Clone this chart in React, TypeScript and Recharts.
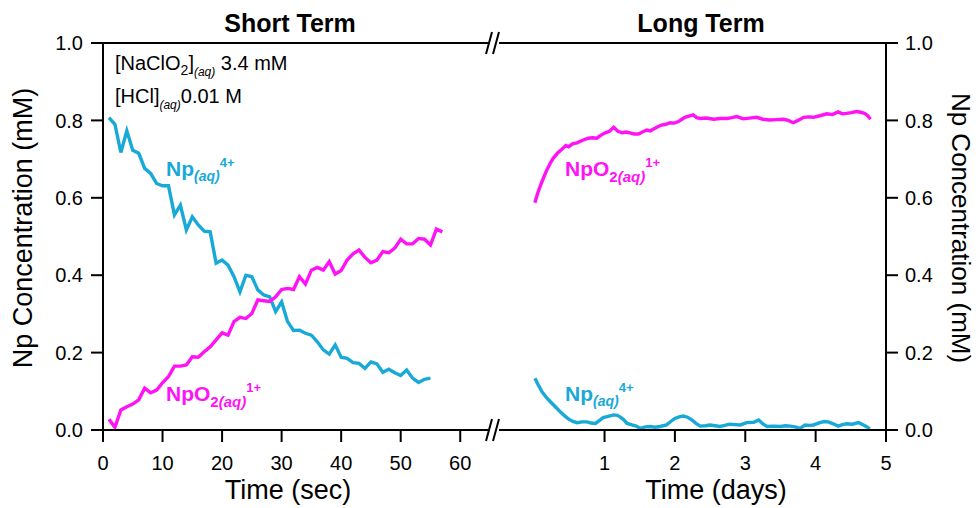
import React from "react";
import { LineChart, Line, XAxis, YAxis, ReferenceLine } from "recharts";

// short term run, one reading per second
const shortSeconds = [
  1, 2, 3, 4, 5, 6, 7, 8, 9, 10, 11, 12, 13, 14, 15, 16, 17, 18, 19, 20,
  21, 22, 23, 24, 25, 26, 27, 28, 29, 30, 31, 32, 33, 34, 35, 36, 37, 38, 39, 40,
  41, 42, 43, 44, 45, 46, 47, 48, 49, 50, 51, 52, 53, 54, 55, 56, 57,
];
const shortNp4 = [
  0.807, 0.79, 0.717, 0.773, 0.723, 0.715, 0.676, 0.663, 0.637, 0.631,
  0.631, 0.556, 0.581, 0.517, 0.551, 0.53, 0.514, 0.512, 0.431, 0.439,
  0.426, 0.396, 0.357, 0.4, 0.396, 0.362, 0.349, 0.344, 0.306, 0.331,
  0.28, 0.257, 0.258, 0.25, 0.245, 0.228, 0.207, 0.196, 0.22, 0.188,
  0.185, 0.174, 0.172, 0.159, 0.176, 0.171, 0.149, 0.157, 0.148, 0.141,
  0.155, 0.134, 0.123, 0.131, 0.134,
];
const shortNpO2 = [
  0.028, 0.007, 0.052, 0.06, 0.067, 0.078, 0.108, 0.096, 0.103, 0.122,
  0.138, 0.165, 0.165, 0.168, 0.189, 0.188, 0.202, 0.215, 0.233, 0.251,
  0.245, 0.28, 0.291, 0.288, 0.301, 0.336, 0.334, 0.332, 0.344, 0.363,
  0.366, 0.363, 0.396, 0.377, 0.413, 0.42, 0.413, 0.435, 0.403, 0.412,
  0.439, 0.455, 0.465, 0.446, 0.432, 0.439, 0.461, 0.458, 0.47, 0.493,
  0.481, 0.481, 0.495, 0.493, 0.478, 0.519, 0.512,
];

// long term run
const longNpO2Days = [
  0.01, 0.05, 0.09, 0.14, 0.18, 0.23, 0.27, 0.33, 0.39, 0.45,
  0.49, 0.55, 0.61, 0.68, 0.77, 0.83, 0.89, 0.95, 1.01, 1.07,
  1.13, 1.19, 1.25, 1.31, 1.36, 1.42, 1.48, 1.54, 1.6, 1.65,
  1.69, 1.75, 1.81, 1.87, 1.93, 1.99, 2.05, 2.1, 2.14, 2.2,
  2.26, 2.31, 2.36, 2.45, 2.55, 2.64, 2.74, 2.81, 2.88, 2.97,
  3.06, 3.16, 3.25, 3.35, 3.45, 3.54, 3.61, 3.68, 3.75, 3.83,
  3.9, 3.97, 4.06, 4.16, 4.24, 4.32, 4.38, 4.44, 4.51, 4.58,
  4.64, 4.7, 4.74, 4.78,
];
const longNpO2 = [
  0.587, 0.612, 0.632, 0.655, 0.672, 0.69, 0.702, 0.715, 0.725, 0.735,
  0.732, 0.74, 0.742, 0.748, 0.754, 0.755, 0.754, 0.762, 0.768, 0.772,
  0.782, 0.772, 0.768, 0.77, 0.768, 0.765, 0.765, 0.77, 0.775, 0.773,
  0.777, 0.783, 0.788, 0.79, 0.794, 0.793, 0.797, 0.803, 0.808, 0.811,
  0.814, 0.807, 0.805, 0.806, 0.803, 0.805, 0.805, 0.807, 0.81, 0.804,
  0.806, 0.808, 0.803, 0.801, 0.802, 0.803, 0.8, 0.794, 0.8, 0.808,
  0.809, 0.808, 0.812, 0.817, 0.815, 0.822, 0.817, 0.818, 0.82, 0.823,
  0.821, 0.818, 0.812, 0.803,
];
const longNp4Days = [
  0.01, 0.06, 0.11, 0.17, 0.23, 0.3, 0.37, 0.43, 0.49, 0.55,
  0.61, 0.68, 0.75, 0.81, 0.87, 0.93, 0.98, 1.05, 1.13, 1.18,
  1.22, 1.27, 1.32, 1.39, 1.45, 1.51, 1.58, 1.65, 1.72, 1.79,
  1.88, 1.94, 2.0, 2.06, 2.12, 2.18, 2.24, 2.3, 2.36, 2.43,
  2.5, 2.57, 2.64, 2.71, 2.78, 2.85, 2.93, 3.02, 3.12, 3.19,
  3.25, 3.31, 3.4, 3.5, 3.57, 3.64, 3.71, 3.78, 3.85, 3.91,
  3.97, 4.06, 4.12, 4.18, 4.25, 4.32, 4.38, 4.44, 4.52, 4.61,
  4.68, 4.73, 4.77,
];
const longNp4 = [
  0.134, 0.116, 0.099, 0.085, 0.073, 0.06, 0.047, 0.037, 0.028, 0.022,
  0.019, 0.021, 0.021, 0.018, 0.017, 0.025, 0.032, 0.035, 0.039, 0.038,
  0.034, 0.027, 0.017, 0.013, 0.01, 0.004, 0.008, 0.009, 0.007, 0.009,
  0.013, 0.022, 0.03, 0.034, 0.036, 0.033, 0.026, 0.017, 0.01, 0.011,
  0.013, 0.011, 0.009, 0.012, 0.015, 0.014, 0.013, 0.019, 0.02, 0.026,
  0.016, 0.009, 0.01, 0.009, 0.011, 0.01, 0.008, 0.004, 0.013, 0.012,
  0.013, 0.019, 0.022, 0.021, 0.016, 0.01, 0.014, 0.016, 0.015, 0.019,
  0.013, 0.008, 0.003,
];

const concTicks = [0, 0.2, 0.4, 0.6, 0.8, 1.0];
const secTicks = [0, 10, 20, 30, 40, 50, 60];
const dayTicks = [1, 2, 3, 4, 5];

const CYAN = "#19a9d8";
const MAGENTA = "#ff12f5";
const FONT = '"Liberation Sans", Arial, Helvetica, sans-serif';

const shortTable = shortSeconds.map((t, i) => ({
  t,
  np4: i < shortNp4.length ? shortNp4[i] : null,
  npo2: shortNpO2[i],
}));
const longNpO2Table = longNpO2Days.map((d, i) => ({ d, v: longNpO2[i] }));
const longNp4Table = longNp4Days.map((d, i) => ({ d, v: longNp4[i] }));

const axisStroke = { stroke: "#000", strokeWidth: 2 };
const tickStyle = { fill: "#000", fontSize: 20, fontFamily: FONT };

// "//" axis break drawn between the two panels
const BreakMark = ({ y }: { y: number }) => (
  <g stroke="#000" strokeWidth={2}>
    <line x1={486} y1={y + 11} x2={492} y2={y - 11} />
    <line x1={493} y1={y + 11} x2={499} y2={y - 11} />
  </g>
);

const NpLabel = ({ x, y }: { x: number; y: number }) => (
  <text x={x} y={y} fill={CYAN} fontFamily={FONT} fontWeight="bold" fontSize={21}>
    Np
    <tspan fontSize={14} fontStyle="italic" dy={5}>(aq)</tspan>
    <tspan fontSize={13} dy={-14}>4+</tspan>
  </text>
);

const NpO2Label = ({ x, y }: { x: number; y: number }) => (
  <text x={x} y={y} fill={MAGENTA} fontFamily={FONT} fontWeight="bold" fontSize={21}>
    NpO
    <tspan fontSize={15} dy={6}>2</tspan>
    <tspan fontSize={15} fontStyle="italic">(aq)</tspan>
    <tspan fontSize={13} dy={-15}>1+</tspan>
  </text>
);

export default function App() {
  return (
    <div style={{ position: "absolute", left: 0, top: 0, width: 978, height: 508, background: "#fff" }}>
      <div style={{ position: "absolute", left: 0, top: 0 }}>
        <LineChart width={978} height={508} data={shortTable} margin={{ top: 43, right: 488, bottom: 3, left: 43 }}>
          <XAxis
            type="number"
            dataKey="t"
            domain={[0, 65]}
            ticks={secTicks}
            height={75}
            tickSize={12}
            tickMargin={14}
            axisLine={axisStroke}
            tickLine={axisStroke}
            tick={tickStyle}
          />
          <YAxis
            domain={[0, 1]}
            ticks={concTicks}
            tickFormatter={(v: number) => v.toFixed(1)}
            width={60}
            tickSize={12}
            tickMargin={8}
            axisLine={axisStroke}
            tickLine={axisStroke}
            tick={tickStyle}
          />
          <ReferenceLine y={1} stroke="#000" strokeWidth={2} />
          <Line type="linear" dataKey="np4" stroke={CYAN} strokeWidth={3.4} dot={false} isAnimationActive={false} />
          <Line type="linear" dataKey="npo2" stroke={MAGENTA} strokeWidth={3.4} dot={false} isAnimationActive={false} />
        </LineChart>
      </div>

      <div style={{ position: "absolute", left: 0, top: 0 }}>
        <LineChart width={978} height={508} margin={{ top: 43, right: 32, bottom: 3, left: 499 }}>
          <XAxis
            type="number"
            dataKey="d"
            domain={[-0.5, 5]}
            ticks={dayTicks}
            allowDuplicatedCategory={false}
            height={75}
            tickSize={12}
            tickMargin={14}
            axisLine={axisStroke}
            tickLine={axisStroke}
            tick={tickStyle}
          />
          <YAxis
            orientation="right"
            domain={[0, 1]}
            ticks={concTicks}
            tickFormatter={(v: number) => v.toFixed(1)}
            width={60}
            tickSize={12}
            tickMargin={7}
            axisLine={axisStroke}
            tickLine={axisStroke}
            tick={tickStyle}
          />
          <ReferenceLine y={1} stroke="#000" strokeWidth={2} />
          <Line data={longNpO2Table} type="linear" dataKey="v" stroke={MAGENTA} strokeWidth={3.4} dot={false} isAnimationActive={false} />
          <Line data={longNp4Table} type="linear" dataKey="v" stroke={CYAN} strokeWidth={3.4} dot={false} isAnimationActive={false} />
        </LineChart>
      </div>

      <svg width={978} height={508} style={{ position: "absolute", left: 0, top: 0, pointerEvents: "none" }}>
        <BreakMark y={43} />
        <BreakMark y={430} />

        <g fontFamily={FONT} fontWeight="bold" fontSize={25} fill="#000" textAnchor="middle">
          <text x={290} y={32}>Short Term</text>
          <text x={701} y={32}>Long Term</text>
        </g>

        <g fontFamily={FONT} fontSize={27} fill="#000" textAnchor="middle">
          <text x={288} y={499}>Time (sec)</text>
          <text x={716} y={499}>Time (days)</text>
          <text transform="translate(32,228) rotate(-90)">Np Concentration (mM)</text>
        </g>
        <text
          transform="translate(952,228) rotate(90)"
          fontFamily={FONT}
          fontSize={26}
          fill="#000"
          textAnchor="middle"
        >
          Np Concentration (mM)
        </text>

        <g fontFamily={FONT} fontSize={20} fill="#000">
          <text x={115} y={70}>
            [NaClO<tspan fontSize={14} dy={5}>2</tspan>
            <tspan dy={-5}>]</tspan>
            <tspan fontSize={12} fontStyle="italic" dy={6}>(aq)</tspan>
            <tspan dy={-6}> 3.4 mM</tspan>
          </text>
          <text x={115} y={103}>
            [HCl]<tspan fontSize={12} fontStyle="italic" dy={6}>(aq)</tspan>
            <tspan dy={-6}>0.01 M</tspan>
          </text>
        </g>

        <NpLabel x={166} y={176} />
        <NpO2Label x={166} y={401} />
        <NpO2Label x={565} y={176} />
        <NpLabel x={565} y={401} />
      </svg>
    </div>
  );
}
